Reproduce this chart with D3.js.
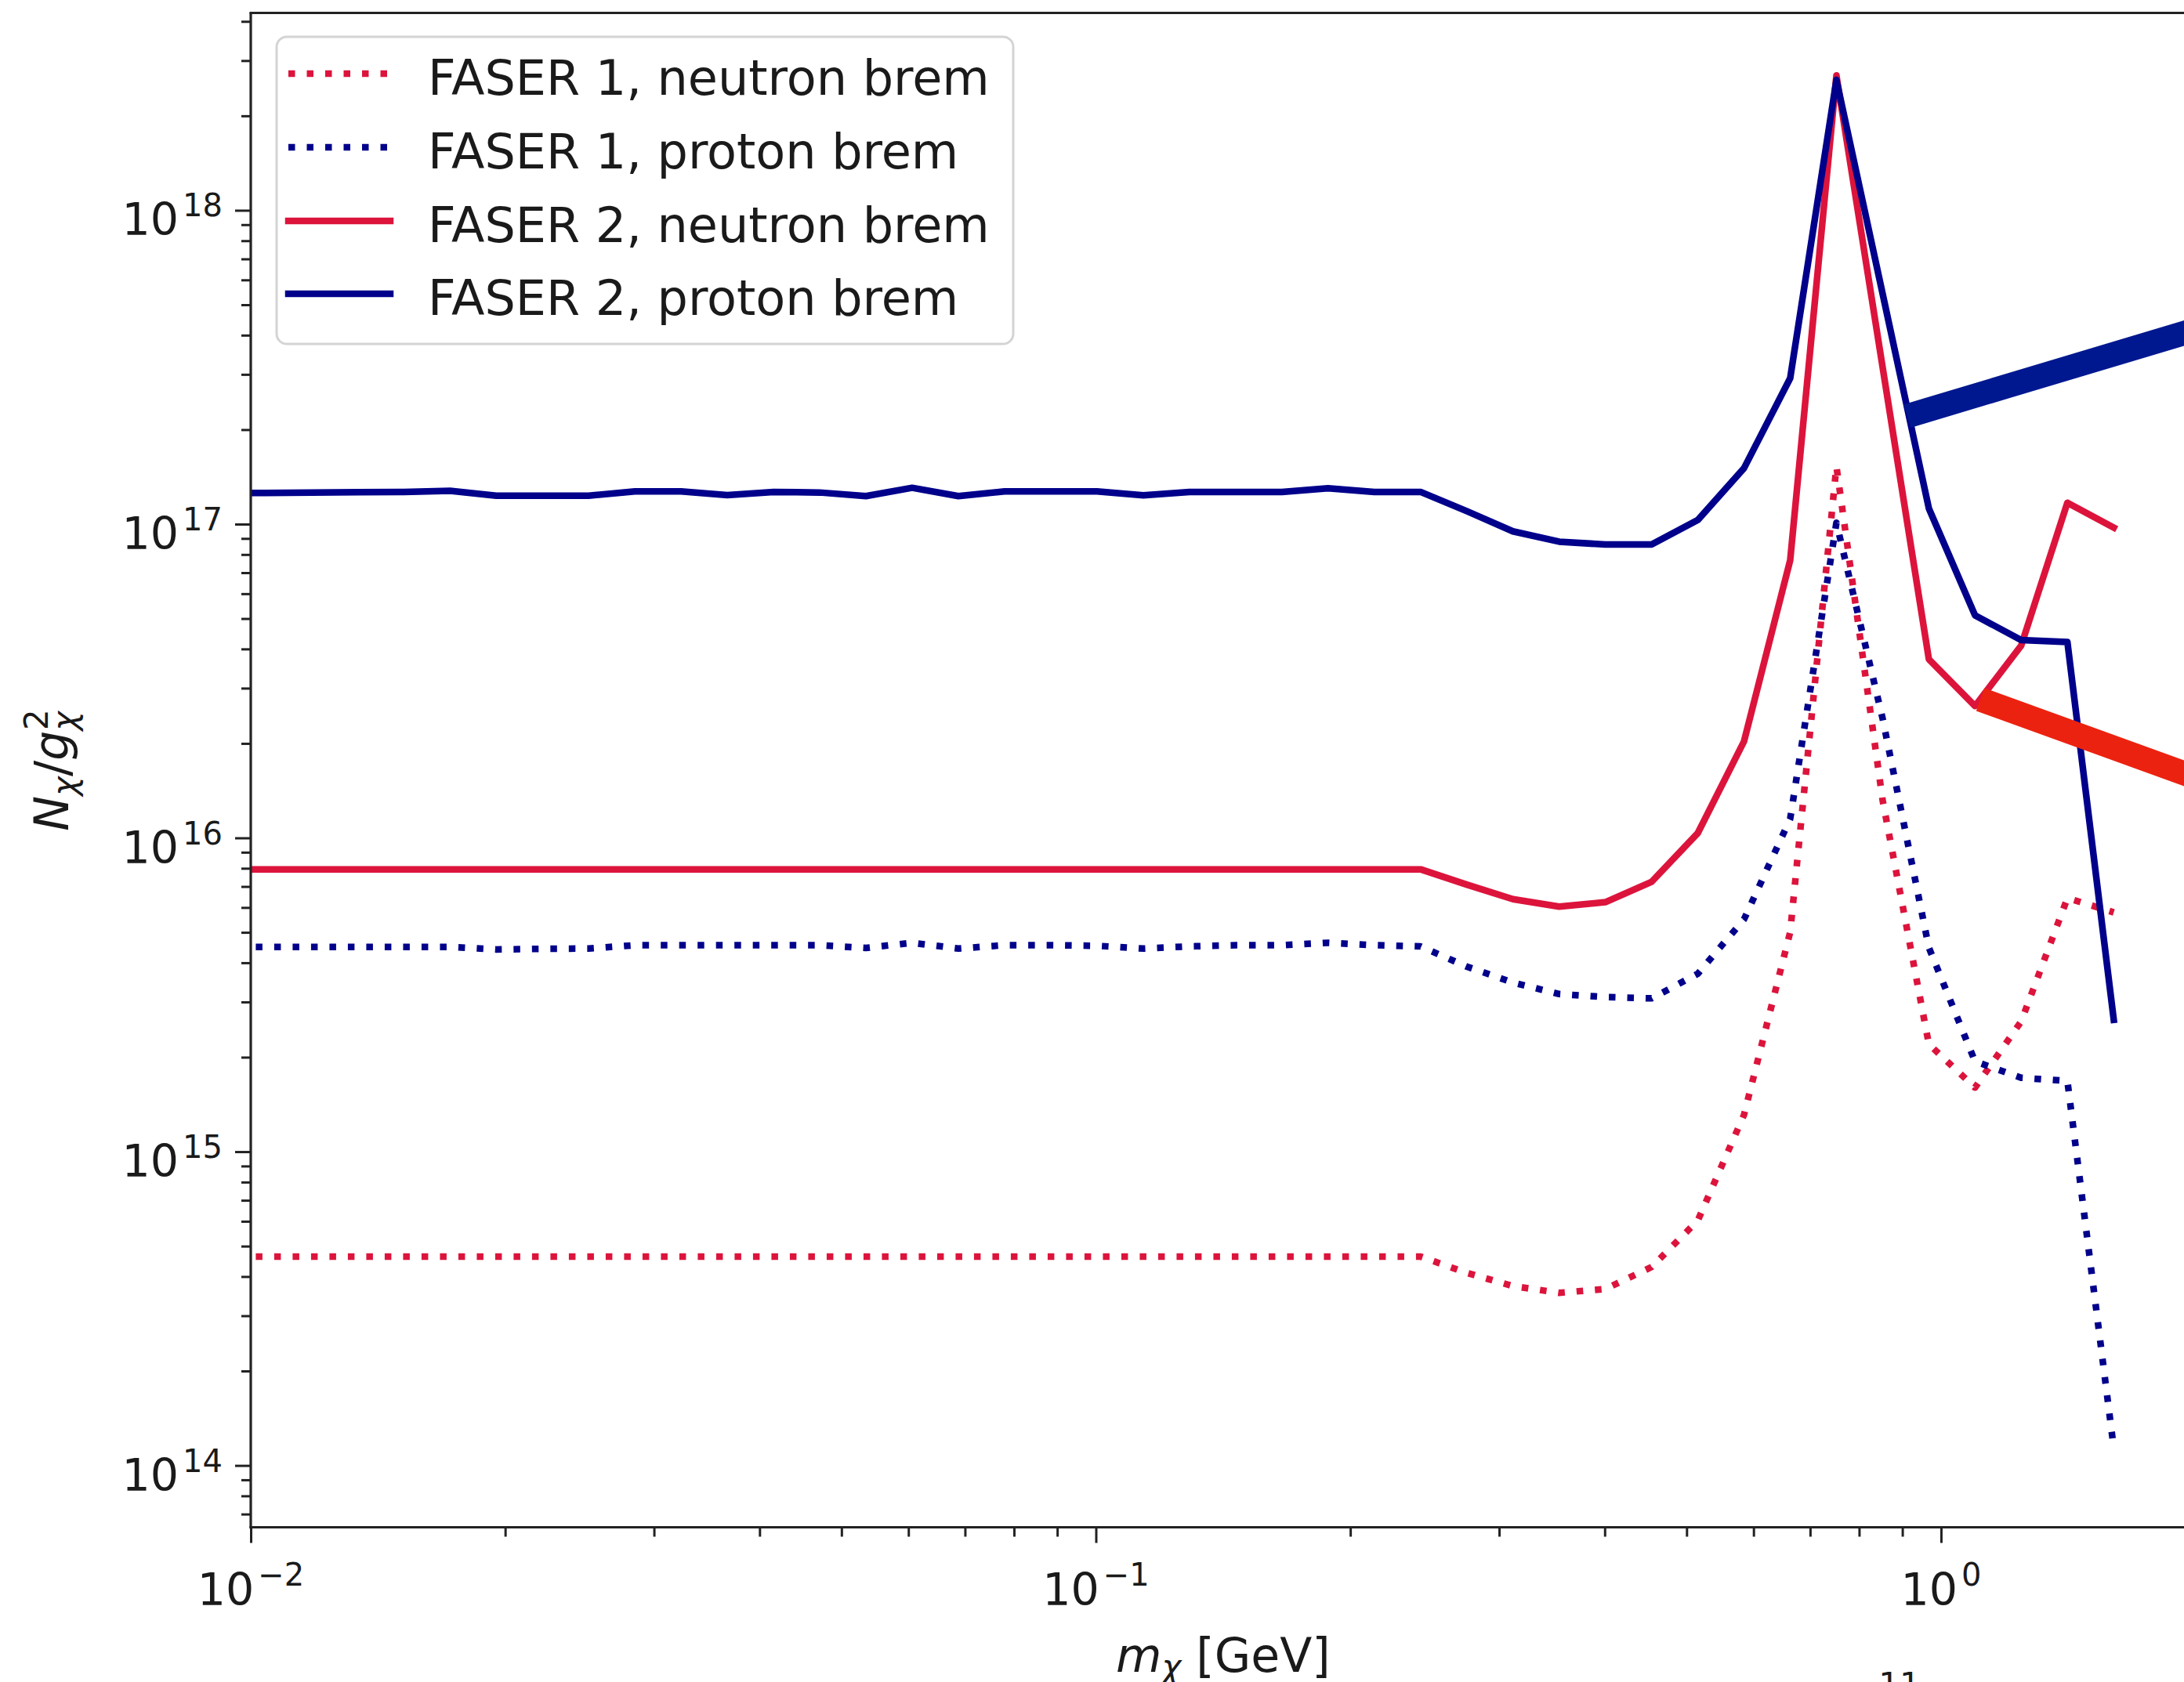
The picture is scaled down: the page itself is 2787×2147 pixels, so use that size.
<!DOCTYPE html>
<html>
<head>
<meta charset="utf-8">
<script src="https://cdn.jsdelivr.net/npm/d3@7"></script>
<style>
  html, body { margin: 0; padding: 0; background: #ffffff; }
  svg { display: block; }
  text { font-family: "DejaVu Sans", "Noto Sans", sans-serif; fill: #1a1a1a; white-space: pre; }
</style>
</head>
<body>
<svg id="chart" width="2787" height="2147"></svg>
<script>
// Dark-matter mass grid (GeV)
const massGeV = [0.00917, 0.01040, 0.01180, 0.01338, 0.01517, 0.01721, 0.01952, 0.02214, 0.02511, 0.02848,
  0.03230, 0.03663, 0.04155, 0.04712, 0.05344, 0.06061, 0.06875, 0.07797, 0.08843, 0.1003,
  0.1138, 0.1290, 0.1463, 0.1660, 0.1882, 0.2135, 0.2422, 0.2746, 0.3115, 0.3533,
  0.4007, 0.4545, 0.5154, 0.5846, 0.6630, 0.7520, 0.8529, 0.9674, 1.097, 1.244,
  1.411, 1.601];

// N_chi / g_chi^2 for each detector and production channel
const faser1Neutron = [4.63e14, 4.63e14, 4.63e14, 4.63e14, 4.63e14, 4.63e14, 4.63e14, 4.63e14, 4.63e14, 4.63e14,
  4.63e14, 4.63e14, 4.63e14, 4.63e14, 4.63e14, 4.63e14, 4.63e14, 4.63e14, 4.63e14, 4.63e14,
  4.63e14, 4.63e14, 4.63e14, 4.63e14, 4.63e14, 4.63e14, 4.63e14, 4.11e14, 3.73e14, 3.55e14,
  3.65e14, 4.29e14, 6.03e14, 1.31e15, 5.01e15, 1.528e17, 1.318e16, 2.20e15, 1.60e15, 2.60e15,
  6.43e15, 5.79e15];

const faser1Proton = [4.49e15, 4.49e15, 4.49e15, 4.49e15, 4.49e15, 4.49e15, 4.41e15, 4.43e15, 4.44e15, 4.55e15,
  4.55e15, 4.55e15, 4.55e15, 4.55e15, 4.46e15, 4.63e15, 4.44e15, 4.55e15, 4.55e15, 4.53e15,
  4.44e15, 4.51e15, 4.55e15, 4.55e15, 4.63e15, 4.55e15, 4.51e15, 3.89e15, 3.46e15, 3.18e15,
  3.11e15, 3.08e15, 3.69e15, 5.50e15, 1.15e16, 1.01e17, 2.40e16, 4.47e15, 1.94e15, 1.72e15,
  1.68e15, 1.135e14];

const faser2Neutron = [7.94e15, 7.94e15, 7.94e15, 7.94e15, 7.94e15, 7.94e15, 7.94e15, 7.94e15, 7.94e15, 7.94e15,
  7.94e15, 7.94e15, 7.94e15, 7.94e15, 7.94e15, 7.94e15, 7.94e15, 7.94e15, 7.94e15, 7.94e15,
  7.94e15, 7.94e15, 7.94e15, 7.94e15, 7.94e15, 7.94e15, 7.94e15, 7.10e15, 6.38e15, 6.04e15,
  6.24e15, 7.24e15, 1.035e16, 2.03e16, 7.67e16, 2.69e18, 3.16e17, 3.71e16, 2.63e16, 4.10e16,
  1.17e17, 9.75e16];

const faser2Proton = [1.256e17, 1.256e17, 1.261e17, 1.264e17, 1.266e17, 1.276e17, 1.232e17, 1.232e17, 1.232e17, 1.271e17,
  1.271e17, 1.237e17, 1.266e17, 1.261e17, 1.228e17, 1.305e17, 1.228e17, 1.271e17, 1.271e17, 1.271e17,
  1.235e17, 1.266e17, 1.266e17, 1.266e17, 1.300e17, 1.266e17, 1.266e17, 1.10e17, 9.48e16, 8.79e16,
  8.61e16, 8.61e16, 1.03e17, 1.507e17, 2.917e17, 2.606e18, 5.42e17, 1.122e17, 5.12e16, 4.27e16,
  4.21e16, 2.63e15];

const seriesNames = ["FASER 1, neutron brem", "FASER 1, proton brem", "FASER 2, neutron brem", "FASER 2, proton brem"];
const seriesValues = [faser1Neutron, faser1Proton, faser2Neutron, faser2Proton];

// Axis ticks (decades)
const xTickExponents = [-2, -1, 0];
const yTickExponents = [14, 15, 16, 17, 18];

// Overlaid pointer bars (mass GeV, N)
const pointerProton = [[0.912, 2.21e17], [2.466, 4.93e17]];
const pointerNeutron = [[1.113, 2.76e16], [2.466, 1.27e16]];

// ---- styling ----
const RED = "#dc143c", BLUE = "#00008b";
const seriesStyles = [
  { color: RED, dotted: true },
  { color: BLUE, dotted: true },
  { color: RED, dotted: false },
  { color: BLUE, dotted: false }
];
const LW = 8.5;
const DOTS = "8.5 15";
const TICK_FS = 57, SUP_FS = 40, LEG_FS = 62, LABEL_FS = 60;

const svg = d3.select("#chart");
const plot = { left: 320, right: 2801.6, top: 16.5, bottom: 1949.5 };

const x = d3.scaleLog().domain([0.01, 2]).range([plot.left, plot.right]);
const y = d3.scaleLog().domain([Math.pow(10, 13.803), Math.pow(10, 18.629)]).range([plot.bottom, plot.top]);

svg.append("defs").append("clipPath").attr("id", "plotClip")
  .append("rect")
  .attr("x", plot.left).attr("y", plot.top)
  .attr("width", plot.right - plot.left).attr("height", plot.bottom - plot.top);

// ---- curves ----
const line = d3.line().x(d => x(d[0])).y(d => y(d[1]));
const curves = svg.append("g").attr("clip-path", "url(#plotClip)");
seriesValues.forEach((vals, i) => {
  const st = seriesStyles[i];
  curves.append("path")
    .datum(massGeV.map((m, j) => [m, vals[j]]))
    .attr("d", line)
    .attr("fill", "none")
    .attr("stroke", st.color)
    .attr("stroke-width", LW)
    .attr("stroke-linejoin", "round")
    .attr("stroke-linecap", st.dotted ? "butt" : "square")
    .attr("stroke-dasharray", st.dotted ? DOTS : null);
});

// ---- axes ----
const minorVals = (lo, hi) => {
  const out = [];
  for (let e = lo; e <= hi; e++) for (let k = 2; k <= 9; k++) out.push(k * Math.pow(10, e));
  return out;
};
const xMinor = minorVals(-3, 0).filter(v => v > x.domain()[0] && v < x.domain()[1]);
const yMinor = minorVals(13, 18).filter(v => v > y.domain()[0] && v < y.domain()[1]);

const styleAxis = g => {
  g.select(".domain").remove();
  g.selectAll(".tick line").attr("stroke", "#222").attr("stroke-width", 3);
  g.selectAll(".tick text").remove();
};

svg.append("g").attr("transform", `translate(0,${plot.bottom})`)
  .call(d3.axisBottom(x).tickValues(xMinor).tickSize(12).tickFormat(""))
  .call(styleAxis);
svg.append("g").attr("transform", `translate(0,${plot.bottom})`)
  .call(d3.axisBottom(x).tickValues(xTickExponents.map(e => Math.pow(10, e))).tickSize(20).tickFormat(""))
  .call(styleAxis);

svg.append("g").attr("transform", `translate(${plot.left},0)`)
  .call(d3.axisLeft(y).tickValues(yMinor).tickSize(12).tickFormat(""))
  .call(styleAxis);
svg.append("g").attr("transform", `translate(${plot.left},0)`)
  .call(d3.axisLeft(y).tickValues(yTickExponents.map(e => Math.pow(10, e))).tickSize(20).tickFormat(""))
  .call(styleAxis);

const expText = e => (e < 0 ? "\u2212" + Math.abs(e) : String(e));

// x tick labels
xTickExponents.forEach(e => {
  const t = svg.append("text")
    .attr("x", x(Math.pow(10, e))).attr("y", 2049)
    .attr("text-anchor", "middle").attr("font-size", TICK_FS);
  t.append("tspan").text("10");
  t.append("tspan").attr("font-size", SUP_FS).attr("dx", 5).attr("dy", -25).text(expText(e));
});

// y tick labels
yTickExponents.forEach(e => {
  const t = svg.append("text")
    .attr("x", 284).attr("y", y(Math.pow(10, e)) + 32)
    .attr("text-anchor", "end").attr("font-size", TICK_FS);
  t.append("tspan").text("10");
  t.append("tspan").attr("font-size", SUP_FS).attr("dx", 5).attr("dy", -24).text(expText(e));
});

// spines
const spine = svg.append("g").attr("stroke", "#222").attr("stroke-width", 3.2).attr("fill", "none");
spine.append("line").attr("x1", plot.left).attr("x2", plot.left).attr("y1", plot.top).attr("y2", plot.bottom + 1.6);
spine.append("line").attr("x1", plot.left - 1.6).attr("x2", plot.right).attr("y1", plot.bottom).attr("y2", plot.bottom);
spine.append("line").attr("x1", plot.left - 1.6).attr("x2", plot.right).attr("y1", plot.top).attr("y2", plot.top);
spine.append("line").attr("x1", plot.right).attr("x2", plot.right).attr("y1", plot.top).attr("y2", plot.bottom);

// axis titles
const xl = svg.append("text").attr("x", (plot.left + plot.right) / 2).attr("y", 2134)
  .attr("text-anchor", "middle").attr("font-size", LABEL_FS);
xl.append("tspan").attr("font-style", "italic").text("m");
xl.append("tspan").attr("font-style", "italic").attr("font-size", 42).attr("dy", 8).text("\u03c7");
xl.append("tspan").attr("dy", -8).text(" [GeV]");

const yl = svg.append("text")
  .attr("transform", `translate(87,${(plot.top + plot.bottom) / 2}) rotate(-90)`)
  .attr("text-anchor", "middle").attr("font-size", LABEL_FS);
yl.append("tspan").attr("font-style", "italic").text("N");
yl.append("tspan").attr("font-style", "italic").attr("font-size", 42).attr("dy", 10).text("\u03c7");
yl.append("tspan").attr("dy", -10).text("/");
yl.append("tspan").attr("font-style", "italic").text("g");
yl.append("tspan").attr("font-style", "italic").attr("font-size", 42).attr("dy", 10).text("\u03c7");
yl.append("tspan").attr("font-size", 42).attr("dx", -24).attr("dy", -36).text("2");

// ---- legend ----
const leg = svg.append("g");
leg.append("rect")
  .attr("x", 353).attr("y", 47).attr("width", 940).attr("height", 392).attr("rx", 13)
  .attr("fill", "#ffffff").attr("fill-opacity", 0.8)
  .attr("stroke", "#d4d4d4").attr("stroke-width", 3);
const rowY = [94, 188, 282, 375];
seriesNames.forEach((name, i) => {
  const st = seriesStyles[i];
  leg.append("line")
    .attr("x1", 368).attr("x2", 498).attr("y1", rowY[i]).attr("y2", rowY[i])
    .attr("stroke", st.color).attr("stroke-width", LW)
    .attr("stroke-linecap", st.dotted ? "butt" : "square")
    .attr("stroke-dasharray", st.dotted ? DOTS : null);
  leg.append("text").attr("x", 546).attr("y", rowY[i] + 27)
    .attr("font-size", LEG_FS).text(name);
});

// ---- overlaid pointer bars ----
const bar = d3.line().x(d => x(d[0])).y(d => y(d[1]));
svg.append("path").datum(pointerProton).attr("d", bar)
  .attr("stroke", "#00188f").attr("stroke-width", 31).attr("stroke-linecap", "butt").attr("fill", "none");
svg.append("path").datum(pointerNeutron).attr("d", bar)
  .attr("stroke", "#ec2210").attr("stroke-width", 31).attr("stroke-linecap", "butt").attr("fill", "none");

// partially visible caption at the lower edge
svg.append("text").attr("x", 2424).attr("y", 2165).attr("text-anchor", "middle")
  .attr("font-size", 42).text("11");
</script>
</body>
</html>
